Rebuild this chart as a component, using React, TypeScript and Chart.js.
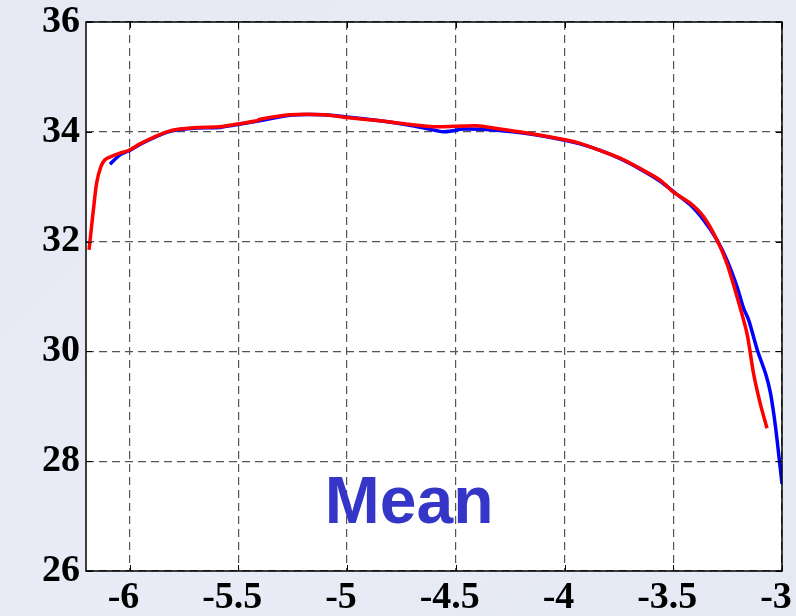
import React, { useEffect, useRef } from "react";
import { Chart, registerables } from "chart.js";

Chart.register(...registerables);

const xTickValues = [-6, -5.5, -5, -4.5, -4, -3.5, -3];
const yTickValues = [26, 28, 30, 32, 34, 36];

const redX = [-6.186, -6.166, -6.151, -6.132, -6.113, -6.09, -6.044, -6.005, -5.952, -5.89, -5.829, -5.768, -5.691, -5.584, -5.522, -5.415, -5.4, -5.262, -5.108, -5.001, -4.848, -4.725, -4.633, -4.572, -4.403, -4.311, -4.158, -4.004, -3.928, -3.836, -3.744, -3.652, -3.56, -3.499, -3.422, -3.36, -3.299, -3.253, -3.207, -3.161, -3.131, -3.1, -3.069];
const redY = [31.85, 32.58, 33.07, 33.36, 33.49, 33.54, 33.61, 33.66, 33.78, 33.9, 34.0, 34.05, 34.08, 34.09, 34.13, 34.2, 34.23, 34.31, 34.31, 34.26, 34.2, 34.14, 34.1, 34.09, 34.11, 34.06, 33.97, 33.86, 33.79, 33.66, 33.52, 33.33, 33.12, 32.9, 32.7, 32.45, 32.03, 31.6, 31.0, 30.33, 29.6, 29.05, 28.6];

const blueX = [-6.09, -6.044, -6.005, -5.952, -5.89, -5.829, -5.768, -5.691, -5.584, -5.522, -5.415, -5.262, -5.108, -5.001, -4.848, -4.725, -4.633, -4.558, -4.512, -4.466, -4.311, -4.158, -4.004, -3.928, -3.836, -3.744, -3.652, -3.56, -3.499, -3.422, -3.36, -3.299, -3.253, -3.207, -3.176, -3.153, -3.114, -3.076, -3.053, -3.03, -3.0];
const blueY = [33.41, 33.58, 33.65, 33.77, 33.89, 33.99, 34.04, 34.07, 34.08, 34.12, 34.19, 34.3, 34.31, 34.27, 34.2, 34.13, 34.06, 34.0, 34.02, 34.05, 34.03, 33.96, 33.85, 33.78, 33.66, 33.51, 33.32, 33.1, 32.91, 32.67, 32.39, 32.03, 31.66, 31.18, 30.78, 30.57, 30.03, 29.6, 29.24, 28.63, 27.59];

const annotationText = "Mean";
const annotationX = -4.714;
const annotationY = 26.87;

const toPoints = (xs: number[], ys: number[]) => xs.map((x, i) => ({ x, y: ys[i] }));

const framePlugin = {
  id: "frame",
  beforeDraw(chart: any) {
    const { ctx, chartArea } = chart;
    ctx.save();
    ctx.fillStyle = "#ffffff";
    ctx.fillRect(chartArea.left, chartArea.top, chartArea.right - chartArea.left, chartArea.bottom - chartArea.top);
    ctx.restore();
  },
  afterDraw(chart: any) {
    const { ctx, chartArea, scales } = chart;
    const { left, right, top, bottom } = chartArea;
    ctx.save();
    ctx.strokeStyle = "#000000";
    ctx.lineWidth = 1.5;
    ctx.setLineDash([]);
    ctx.strokeRect(left, top, right - left, bottom - top);
    ctx.lineWidth = 1;
    const tl = 6;
    xTickValues.forEach((v) => {
      const px = Math.round(scales.x.getPixelForValue(v)) + 0.5;
      ctx.beginPath();
      ctx.moveTo(px, bottom);
      ctx.lineTo(px, bottom - tl);
      ctx.moveTo(px, top);
      ctx.lineTo(px, top + tl);
      ctx.stroke();
    });
    yTickValues.forEach((v) => {
      const py = Math.round(scales.y.getPixelForValue(v)) + 0.5;
      ctx.beginPath();
      ctx.moveTo(left, py);
      ctx.lineTo(left + tl, py);
      ctx.moveTo(right, py);
      ctx.lineTo(right - tl, py);
      ctx.stroke();
    });
    ctx.restore();
  },
  afterDatasetsDraw(chart: any) {
    const { ctx, scales } = chart;
    ctx.save();
    ctx.font = "bold 66px 'Liberation Sans', Arial, sans-serif";
    ctx.fillStyle = "#3535c8";
    ctx.textAlign = "center";
    ctx.textBaseline = "alphabetic";
    ctx.fillText(annotationText, scales.x.getPixelForValue(annotationX), scales.y.getPixelForValue(annotationY));
    ctx.restore();
  },
};

export default function App() {
  const canvasRef = useRef<HTMLCanvasElement | null>(null);

  useEffect(() => {
    if (!canvasRef.current) return;
    const tickFont = { family: "'Liberation Serif', 'Times New Roman', serif", size: 38, weight: "bold" as const };
    const chart = new Chart(canvasRef.current, {
      type: "line",
      data: {
        datasets: [
          {
            label: "red",
            data: toPoints(redX, redY),
            borderColor: "#ff0000",
            borderWidth: 3.5,
            pointRadius: 0,
            tension: 0.25,
            fill: false,
            order: 0,
          },
          {
            label: "blue",
            data: toPoints(blueX, blueY),
            borderColor: "#0000ff",
            borderWidth: 3.5,
            pointRadius: 0,
            tension: 0.25,
            fill: false,
            order: 1,
          },
        ],
      },
      options: {
        animation: false,
        responsive: false,
        maintainAspectRatio: false,
        layout: { padding: { top: 22, right: 14, left: 0, bottom: 0 } },
        plugins: { legend: { display: false }, tooltip: { enabled: false } },
        scales: {
          x: {
            type: "linear",
            min: -6.2,
            max: -3,
            afterBuildTicks: (scale: any) => {
              scale.ticks = xTickValues.map((v) => ({ value: v }));
            },
            afterFit: (scale: any) => {
              scale.height = 45;
              scale.paddingRight = 0;
              scale.paddingLeft = 0;
            },
            grid: {
              color: "#555555",
              lineWidth: 1.2,
              drawTicks: false,
            },
            border: { display: false, dash: [8, 5] },
            ticks: {
              font: tickFont,
              color: "#000000",
              padding: 4,
              labelOffset: -6,
              maxRotation: 0,
              autoSkip: false,
              callback: (v: any) => String(v),
            },
          },
          y: {
            type: "linear",
            min: 26,
            max: 36,
            afterBuildTicks: (scale: any) => {
              scale.ticks = yTickValues.map((v) => ({ value: v }));
            },
            afterFit: (scale: any) => {
              scale.width = 86;
              scale.paddingTop = 0;
              scale.paddingBottom = 0;
            },
            grid: {
              color: "#555555",
              lineWidth: 1.2,
              drawTicks: false,
            },
            border: { display: false, dash: [8, 5] },
            ticks: {
              font: tickFont,
              color: "#000000",
              padding: 6,
              autoSkip: false,
              callback: (v: any) => String(v),
            },
          },
        },
      },
      plugins: [framePlugin],
    });
    return () => chart.destroy();
  }, []);

  return (
    <div
      style={{
        position: "fixed",
        left: 0,
        top: 0,
        width: 796,
        height: 616,
        background: "linear-gradient(135deg, #e6e9f4 0%, #e9ecf6 50%, #e5e9f4 100%)",
      }}
    >
      <canvas ref={canvasRef} width={796} height={616} style={{ display: "block" }} />
    </div>
  );
}
